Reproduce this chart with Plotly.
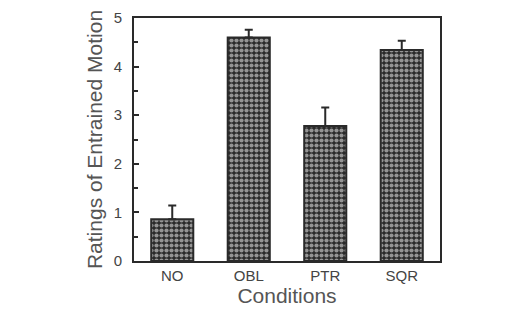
import plotly.graph_objects as go

categories = ["NO", "OBL", "PTR", "SQR"]
ratings = [0.86, 4.60, 2.78, 4.34]
errors = [0.28, 0.16, 0.38, 0.19]
y_ticks = [0, 1, 2, 3, 4, 5]

ink = "#2a2a2a"

fig = go.Figure(go.Bar(
    x=categories, y=ratings,
    marker=dict(
        color="#2a2a2a",
        line=dict(color=ink, width=2),
        pattern=dict(shape=".", fgcolor="white", bgcolor="#2a2a2a", size=5, solidity=0.55, fillmode="overlay"),
    ),
    error_y=dict(type="data", symmetric=False, array=errors, arrayminus=[0]*len(errors),
                 color=ink, thickness=2, width=4),
))

fig.update_layout(
    width=525, height=311,
    margin=dict(l=134, r=85, t=9, b=48),
    paper_bgcolor="white", plot_bgcolor="white",
    bargap=0.45, showlegend=False,
    font=dict(family="Liberation Sans, Arial, sans-serif", color="#444"),
)
fig.update_xaxes(
    showline=True, linecolor=ink, linewidth=2, mirror=True,
    ticks="", tickfont=dict(size=15, color="#444"),
    title=dict(text="Conditions", font=dict(size=21, color="#555"), standoff=3),
)
fig.update_yaxes(
    range=[0, 5], tickvals=y_ticks, showline=True, linecolor=ink, linewidth=2, mirror=True,
    ticks="inside", ticklen=5, tickwidth=1.5, tickcolor=ink,
    minor=dict(dtick=0.5, ticks="inside", ticklen=4, tickwidth=1.5, tickcolor=ink, showgrid=False),
    showgrid=False, zeroline=False, ticklabelstandoff=7,
    tickfont=dict(size=15, color="#444"),
    title=dict(text="Ratings of Entrained Motion", font=dict(size=21, color="#555"), standoff=5),
)

fig.write_html("out.html")
